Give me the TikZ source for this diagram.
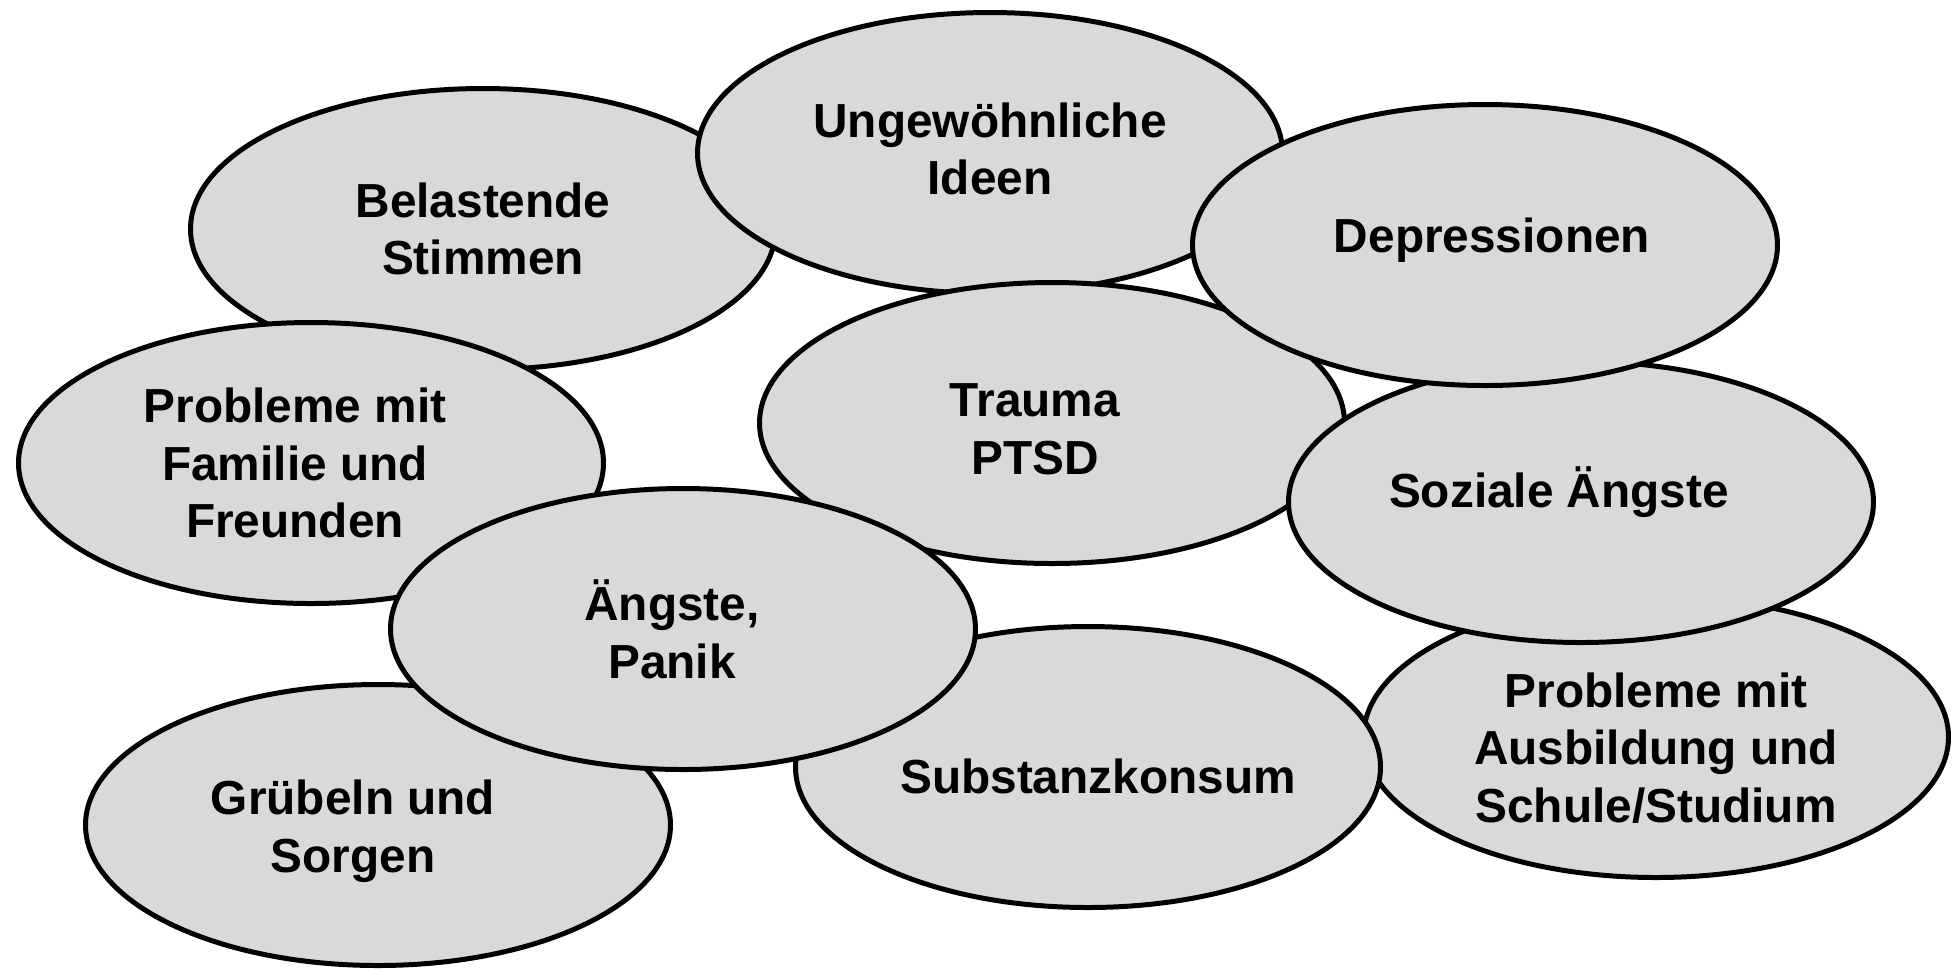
\documentclass[tikz,border=0pt]{standalone}
\usepackage{fontspec}
\setmainfont{Liberation Sans}
\usetikzlibrary{shapes.geometric}
\definecolor{FillClr}{HTML}{D9D9D9}

\begin{document}
\begin{tikzpicture}[x=0.1mm,y=-0.1mm,
  blob/.style={ellipse,draw=black,line width=1.42pt,fill=FillClr,
    minimum width=5.85cm,minimum height=2.81cm,inner sep=0pt},
  txt/.style={align=center,inner sep=0pt,
    font=\bfseries\fontsize{13.6}{16.4}\selectfont}]
\useasboundingbox (0,0) rectangle (1952,971);

% back row first, the later ones lie on top
\node[blob,label={[txt,shift={(0,0)}]center:{Belastende\\Stimmen}}] (stimmen) at (483,229) {};
\node[blob,label={[txt,shift={(0,-4)}]center:{Ungewöhnliche\\Ideen}}] (ideen) at (990,153) {};
\node[blob,label={[txt,shift={(-17,6)}]center:{Trauma\\PTSD}}] (trauma) at (1052,423) {};
\node[blob,label={[txt,shift={(0,11)}]center:{Probleme mit\\Ausbildung und\\Schule/Studium}}] (ausbildung) at (1656,737) {};
\node[blob,label={[txt,shift={(-22,-10)}]center:{Soziale Ängste}}] (sozial) at (1581,502) {};
\node[blob,label={[txt,shift={(7,-5)}]center:{Depressionen}}] (depression) at (1485,245) {};
\node[blob,label={[txt,shift={(-16,0)}]center:{Probleme mit\\Familie und\\Freunden}}] (familie) at (311,463) {};
\node[blob,label={[txt,shift={(-25,6)}]center:{Grübeln und\\Sorgen}}] (gruebeln) at (378,825) {};
\node[blob,label={[txt,shift={(10,9)}]center:{Substanzkonsum}}] (substanz) at (1088,767) {};
\node[blob,label={[txt,shift={(-11,0)}]center:{Ängste,\\Panik}}] (panik) at (683,629) {};

\end{tikzpicture}
\end{document}
